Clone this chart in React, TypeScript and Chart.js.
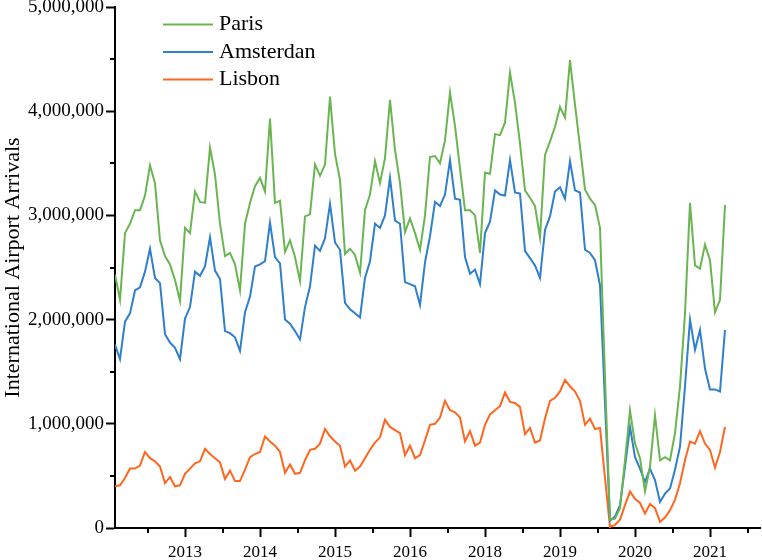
import React, { useEffect, useRef } from 'react';
import { Chart, registerables } from 'chart.js';

Chart.register(...registerables);

// Monthly international airport arrivals (millions), Jan 2012 onward (month index 0..122)
const seriesNames = ['Paris', 'Amsterdan', 'Lisbon'];
const seriesColors = ['#6ab552', '#2f7fcd', '#ff661f'];

const paris = [
  2.43, 2.19, 2.83, 2.92, 3.05, 3.05, 3.19, 3.48, 3.31, 2.76,
  2.61, 2.53, 2.38, 2.18, 2.88, 2.83, 3.23, 3.13, 3.12, 3.65,
  3.39, 2.92, 2.61, 2.64, 2.53, 2.28, 2.92, 3.12, 3.28, 3.36,
  3.23, 3.93, 3.12, 3.14, 2.65, 2.76, 2.60, 2.37, 2.99, 3.01,
  3.49, 3.38, 3.49, 4.14, 3.59, 3.34, 2.63, 2.68, 2.62, 2.45,
  3.05, 3.20, 3.52, 3.31, 3.55, 4.11, 3.63, 3.31, 2.84, 2.97,
  2.83, 2.67, 3.00, 3.56, 3.57, 3.50, 3.72, 4.18, 3.86, 3.45,
  3.05, 3.05, 3.00, 2.64, 3.41, 3.40, 3.78, 3.77, 3.89, 4.37,
  4.08, 3.69, 3.24, 3.17, 3.09, 2.79, 3.58, 3.71, 3.85, 4.04,
  3.94, 4.49, 4.06, 3.66, 3.25, 3.16, 3.10, 2.88, 1.45, 0.08,
  0.09, 0.19, 0.65, 1.13, 0.81, 0.67, 0.35, 0.59, 1.08, 0.65,
  0.68, 0.65, 0.91, 1.36, 2.06, 3.12, 2.52, 2.49, 2.72, 2.57,
  2.07, 2.19, 3.10,
];

const amsterdam = [
  1.76, 1.62, 1.98, 2.06, 2.28, 2.31, 2.46, 2.68, 2.40, 2.35,
  1.86, 1.78, 1.73, 1.62, 2.01, 2.12, 2.46, 2.42, 2.51, 2.79,
  2.47, 2.39, 1.89, 1.87, 1.83, 1.70, 2.07, 2.22, 2.51, 2.53,
  2.56, 2.93, 2.60, 2.54, 2.00, 1.96, 1.89, 1.81, 2.12, 2.32,
  2.71, 2.66, 2.78, 3.11, 2.74, 2.67, 2.16, 2.10, 2.06, 2.02,
  2.40, 2.56, 2.92, 2.88, 3.00, 3.36, 2.95, 2.92, 2.36, 2.34,
  2.32, 2.14, 2.55, 2.80, 3.13, 3.09, 3.20, 3.53, 3.16, 3.15,
  2.60, 2.44, 2.48, 2.34, 2.83, 2.94, 3.24, 3.20, 3.19, 3.53,
  3.22, 3.21, 2.66, 2.59, 2.52, 2.40, 2.86, 2.99, 3.23, 3.27,
  3.16, 3.52, 3.24, 3.22, 2.67, 2.64, 2.57, 2.33, 1.20, 0.07,
  0.11, 0.22, 0.59, 0.97, 0.68, 0.57, 0.44, 0.57, 0.46, 0.25,
  0.33, 0.38, 0.56, 0.78, 1.36, 2.00, 1.71, 1.90, 1.53, 1.33,
  1.33, 1.31, 1.90,
];

const lisbon = [
  0.40, 0.41, 0.48, 0.57, 0.57, 0.60, 0.73, 0.67, 0.64, 0.59,
  0.43, 0.49, 0.40, 0.41, 0.52, 0.57, 0.62, 0.64, 0.76, 0.71,
  0.67, 0.63, 0.47, 0.55, 0.45, 0.45, 0.56, 0.68, 0.71, 0.73,
  0.88, 0.83, 0.79, 0.73, 0.53, 0.61, 0.52, 0.53, 0.65, 0.75,
  0.76, 0.81, 0.95, 0.88, 0.83, 0.79, 0.59, 0.65, 0.55, 0.59,
  0.67, 0.75, 0.82, 0.87, 1.04, 0.97, 0.94, 0.91, 0.70, 0.79,
  0.67, 0.70, 0.84, 0.99, 1.00, 1.06, 1.22, 1.13, 1.11, 1.06,
  0.83, 0.93, 0.79, 0.82, 0.99, 1.09, 1.13, 1.17, 1.30, 1.21,
  1.20, 1.16, 0.90, 0.96, 0.82, 0.84, 1.05, 1.22, 1.25, 1.31,
  1.42, 1.36, 1.31, 1.22, 0.99, 1.05, 0.95, 0.96, 0.48, 0.01,
  0.03, 0.08, 0.22, 0.35, 0.28, 0.24, 0.14, 0.23, 0.19, 0.06,
  0.10, 0.17, 0.27, 0.43, 0.65, 0.83, 0.81, 0.93, 0.81, 0.75,
  0.58, 0.73, 0.97,
];

// X axis ticks (month index positions) and their labels
const xTickMonths = [14, 29, 44, 59, 74, 89, 104, 119];
const xTickLabels = ['2013', '2014', '2015', '2016', '2018', '2019', '2020', '2021'];
const xMinorTickMonths = [6.5, 21.5, 36.5, 51.5, 66.5, 81.5, 96.5, 111.5, 126.5];
const xMax = 129;

// Y axis ticks
const yMax = 5000000;
const yStep = 1000000;
const yMinorTicks = [500000, 1500000, 2500000, 3500000, 4500000];

const FONT = '"Liberation Serif", "Times New Roman", serif';

export default function App() {
  const ref = useRef<HTMLCanvasElement>(null);

  useEffect(() => {
    document.body.style.margin = '0';
    const canvas = ref.current!;
    const allSeries = [paris, amsterdam, lisbon];

    const minorTicks = {
      id: 'minorTicks',
      afterDraw(chart: any) {
        const ctx = chart.ctx;
        const xs = chart.scales.x;
        const ys = chart.scales.y;
        const { left, bottom } = chart.chartArea;
        ctx.save();
        ctx.strokeStyle = '#000';
        ctx.lineWidth = 2;
        ctx.beginPath();
        xMinorTickMonths.forEach((m) => {
          const px = Math.round(xs.getPixelForValue(m));
          ctx.moveTo(px, bottom);
          ctx.lineTo(px, bottom + 5);
        });
        yMinorTicks.forEach((v) => {
          const py = Math.round(ys.getPixelForValue(v));
          ctx.moveTo(left - 5, py);
          ctx.lineTo(left, py);
        });
        ctx.stroke();
        ctx.restore();
      },
    };

    const legendPlugin = {
      id: 'customLegend',
      afterDraw(chart: any) {
        const ctx = chart.ctx;
        ctx.save();
        ctx.font = `22px ${FONT}`;
        ctx.textBaseline = 'middle';
        ctx.fillStyle = '#000';
        seriesNames.forEach((name, i) => {
          const y = 24.5 + 27.5 * i;
          ctx.strokeStyle = seriesColors[i];
          ctx.lineWidth = 2;
          ctx.beginPath();
          ctx.moveTo(163, y);
          ctx.lineTo(213, y);
          ctx.stroke();
          ctx.fillText(name, 219, y);
        });
        ctx.restore();
      },
    };

    const chart = new Chart(canvas, {
      type: 'line',
      data: {
        datasets: allSeries.map((s, i) => ({
          label: seriesNames[i],
          data: s.map((v, idx) => ({ x: idx, y: v * 1000000 })),
          borderColor: seriesColors[i],
          backgroundColor: seriesColors[i],
          borderWidth: 2,
          pointRadius: 0,
          tension: 0,
          fill: false,
        })),
      },
      options: {
        responsive: false,
        animation: false,
        devicePixelRatio: 1,
        layout: { padding: { top: 7, right: 2, left: 0, bottom: 0 } },
        plugins: {
          legend: { display: false },
          tooltip: { enabled: false },
        },
        scales: {
          x: {
            type: 'linear',
            min: 0,
            max: xMax,
            afterBuildTicks: (s: any) => {
              s.ticks = xTickMonths.map((v) => ({ value: v }));
            },
            ticks: {
              callback: (_v: any, index: number) => xTickLabels[index] ?? '',
              font: { family: FONT, size: 17 },
              color: '#000',
              padding: 5,
              maxRotation: 0,
              autoSkip: false,
            },
            grid: {
              drawOnChartArea: false,
              drawTicks: true,
              tickLength: 9,
              tickWidth: 2,
              tickColor: '#000',
            },
            border: { display: true, color: '#000', width: 2 },
            afterFit: (s: any) => {
              s.height = 32;
              s.paddingLeft = 0;
              s.paddingRight = 0;
            },
          },
          y: {
            type: 'linear',
            min: 0,
            max: yMax,
            ticks: {
              stepSize: yStep,
              callback: (v: any) => Number(v).toLocaleString('en-US'),
              font: { family: FONT, size: 19 },
              color: '#000',
              padding: 2,
            },
            grid: {
              drawOnChartArea: false,
              drawTicks: true,
              tickLength: 9,
              tickWidth: 2,
              tickColor: '#000',
            },
            border: { display: true, color: '#000', width: 2 },
            title: {
              display: true,
              text: 'International Airport Arrivals',
              font: { family: FONT, size: 22 },
              color: '#000',
              padding: { top: 0, bottom: 0 },
            },
            afterFit: (s: any) => {
              s.width = 115;
              s.paddingTop = 0;
              s.paddingBottom = 0;
            },
          },
        },
      },
      plugins: [minorTicks, legendPlugin],
    });

    return () => chart.destroy();
  }, []);

  return (
    <div style={{ width: 762, height: 560 }}>
      <canvas ref={ref} width={762} height={560} style={{ display: 'block' }} />
    </div>
  );
}
